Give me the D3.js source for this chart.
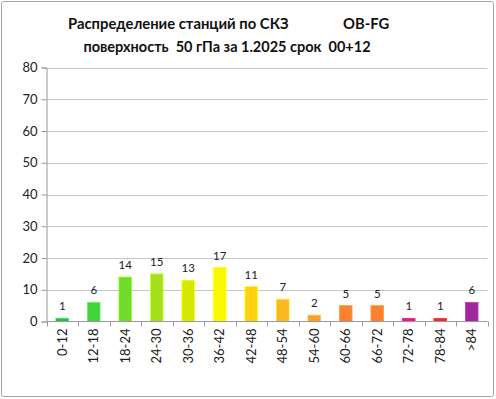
<!DOCTYPE html>
<html><head><meta charset="utf-8">
<script src="https://cdn.jsdelivr.net/npm/d3@7"></script>
<style>body{margin:0;background:#fff}svg{display:block}text{font-family:Lato,"Open Sans",sans-serif}</style>
</head><body>
<script>
const categories = ["0-12","12-18","18-24","24-30","30-36","36-42","42-48","48-54","54-60","60-66","66-72","72-78","78-84",">84"];
const values = [1,6,14,15,13,17,11,7,2,5,5,1,1,6];
const colors = ["#22c040","#44d23c","#72da28","#a4e01c","#d4e800","#f8f800","#ffd010","#fcb820","#fca028","#fc8030","#fc8030","#f01480","#f02828","#a0289c"];
const yTicks = [0,10,20,30,40,50,60,70,80];
const titleLine1 = "Распределение станций по СКЗ";
const titleTag = "OB-FG";
const titleLine2 = "поверхность  50 гПа за 1.2025 срок  00+12";

const W=496,H=399;
const svg=d3.select("body").append("svg").attr("width",W).attr("height",H);
svg.append("rect").attr("x",1.5).attr("y",1.5).attr("width",W-4).attr("height",H-4).attr("rx",2)
  .attr("fill","#fff").attr("stroke","#a6a6a6").attr("stroke-width",1);

const x=d3.scaleBand().domain(categories).range([46.5,487.5]).paddingInner(0.6).paddingOuter(0.3);
const xb=d3.scaleBand().domain(categories).range([46.5,487.5]);
const y=d3.scaleLinear().domain([0,80]).range([321.5,67.5]);

// gridlines
svg.append("g").selectAll("line").data(yTicks.filter(d=>d>0)).join("line")
  .attr("x1",46.5).attr("x2",487.5).attr("y1",d=>Math.round(y(d))+0.5).attr("y2",d=>Math.round(y(d))+0.5)
  .attr("stroke","#c6c6c6").attr("stroke-width",1.2);

// y axis
const ya=svg.append("g").attr("transform","translate(46.5,0)")
  .call(d3.axisLeft(y).tickValues(yTicks).tickSize(5).tickPadding(4));
ya.select(".domain").attr("stroke","#999");
ya.selectAll(".tick line").attr("stroke","#999");
ya.selectAll("text").attr("font-size",13).attr("fill","#222");

// bars
svg.append("g").selectAll("rect").data(values).join("rect")
  .attr("x",(d,i)=>x(categories[i])).attr("width",x.bandwidth())
  .attr("y",d=>y(d)).attr("height",d=>y(0)-y(d))
  .attr("fill",(d,i)=>colors[i]).attr("stroke",(d,i)=>d3.color(colors[i]).brighter(0.6)).attr("stroke-width",0.8);

// value labels
svg.append("g").selectAll("text").data(values).join("text")
  .attr("x",(d,i)=>x(categories[i])+x.bandwidth()/2).attr("y",d=>y(d)-8)
  .attr("text-anchor","middle").attr("font-size",11.5).attr("fill","#222").text(d=>d);

// x axis
const xa=svg.append("g").attr("transform","translate(0,321.5)");
xa.append("line").attr("x1",46.5).attr("x2",487.5).attr("stroke","#999");
const bounds=categories.map(c=>xb(c)).concat([487.5]);
xa.selectAll("line.t").data(bounds).join("line").attr("class","t")
  .attr("x1",d=>Math.round(d)+0.5).attr("x2",d=>Math.round(d)+0.5).attr("y1",0).attr("y2",5).attr("stroke","#999");
xa.selectAll("text").data(categories).join("text")
  .attr("transform",c=>`translate(${xb(c)+xb.bandwidth()/2+4.5},7) rotate(-90)`)
  .attr("text-anchor","end").attr("font-size",13).attr("fill","#222").text(c=>c);

// title
svg.append("text").attr("x",68).attr("y",29).attr("font-size",14.8).attr("font-weight","bold").attr("fill","#111").text(titleLine1);
svg.append("text").attr("x",343).attr("y",29).attr("font-size",14.8).attr("font-weight","bold").attr("fill","#111").text(titleTag);
svg.append("text").attr("x",227).attr("y",52).attr("text-anchor","middle").attr("font-size",14.5).attr("font-weight","bold").attr("fill","#111").style("white-space","pre").text(titleLine2);
</script>
</body></html>
